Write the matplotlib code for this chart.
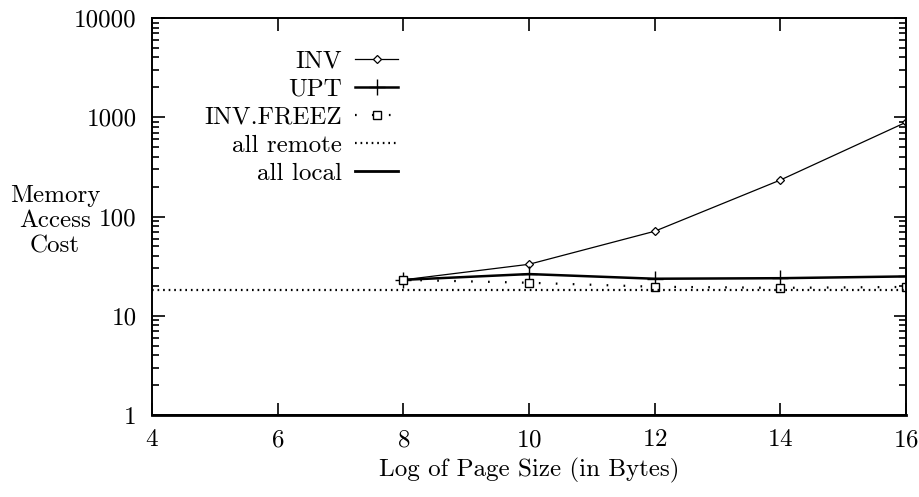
import numpy as np
import matplotlib
matplotlib.use("Agg")
import matplotlib.pyplot as plt

# page size (log2 bytes) and the costs
page_log = [8, 10, 12, 14, 16]
inv = [23, 33, 71, 233, 890]
upt = [23, 26.3, 23.6, 23.9, 24.9]
inv_freez = [23, 21.5, 19.6, 19.1, 19.5]
x_range = [4, 16]
all_remote = [18.2, 18.2]
all_local = [1, 1]

plt.rcParams['font.family'] = ['cmr10', 'DejaVu Serif']
plt.rcParams['axes.formatter.use_mathtext'] = True
plt.rcParams['lines.scale_dashes'] = False

fs = 18

fig = plt.figure(figsize=(9.2, 4.97), dpi=100)
ax = fig.add_axes([152/920, 1-415/497, (906-152)/920, (415-18)/497])

ax.plot(page_log, inv, color='black', lw=0.9, marker='D', ms=4.5,
        mfc='white', mec='black', mew=0.9, label='INV')
ax.plot(page_log, upt, color='black', lw=1.8, marker='+', ms=11,
        mew=1.0, label='UPT')
ax.plot(page_log, inv_freez, color='black', lw=1.6, ls=(0, (1.2, 11)),
        marker='s', ms=6, mfc='white', mec='black', mew=1.0,
        label='INV.FREEZ')
ax.plot(x_range, all_remote, color='black', lw=1.6, ls=(0, (1.2, 2.8)),
        label='all remote')
ax.plot(x_range, all_local, color='black', lw=2.0, clip_on=False,
        label='all local')

ax.set_yscale('log')
ax.set_xlim(4, 16)
ax.set_ylim(1, 10000)
ax.set_xticks([4, 6, 8, 10, 12, 14, 16])
ax.set_yticks([1, 10, 100, 1000, 10000])
ax.set_yticklabels(['1', '10', '100', '1000', '10000'])
ax.tick_params(which='both', direction='in', top=True, right=True,
               labelsize=fs, width=1.2)
ax.tick_params(which='major', length=9)
ax.tick_params(which='minor', length=5)
ax.tick_params(axis='y', pad=11)
ax.tick_params(axis='x', pad=10)
for s in ax.spines.values():
    s.set_linewidth(1.4)

ax.set_xlabel('Log of Page Size (in Bytes)', fontsize=fs, labelpad=5)
fig.text(55/920, 1-221/497, 'Memory\nAccess\nCost', ha='center',
         va='center', multialignment='center', fontsize=fs, linespacing=1.2)

ax.legend(loc='upper right', bbox_to_anchor=(398/920, 1-50/497),
          bbox_transform=fig.transFigure, frameon=False, markerfirst=False,
          fontsize=fs, handlelength=1.7, handletextpad=0.55,
          labelspacing=0.22, borderpad=0, borderaxespad=0)

fig.savefig('out.png', dpi=100)
